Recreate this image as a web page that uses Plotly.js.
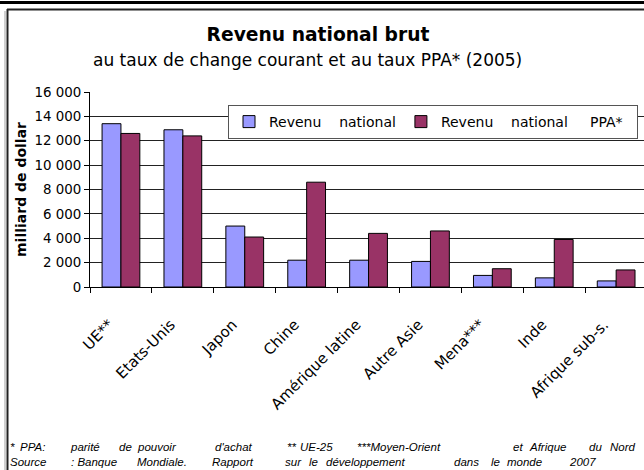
<!DOCTYPE html>
<html>
<head>
<meta charset="utf-8">
<script src="https://cdn.plot.ly/plotly-3.0.1.min.js"></script>
<style>
html,body{margin:0;padding:0;background:#fff;overflow:hidden;}
#chart{width:644px;height:470px;}
</style>
</head>
<body>
<div id="chart"></div>
<script>
// ---- data ----
const categories = ["UE**", "Etats-Unis", "Japon", "Chine", "Amérique latine", "Autre Asie", "Mena***", "Inde", "Afrique sub-s."];
const revenuNational = [13400, 12900, 5000, 2200, 2200, 2100, 950, 750, 500];
const revenuNationalPPA = [12600, 12400, 4100, 8600, 4400, 4600, 1500, 3900, 1400];
const seriesNames = ["Revenu national", "Revenu national PPA*"];
const yTicks = [0, 2000, 4000, 6000, 8000, 10000, 12000, 14000, 16000];
const footLine1 = ["*", "PPA:", "parité", "de", "pouvoir", "d'achat", "**", "UE-25", "***Moyen-Orient", "et", "Afrique", "du", "Nord"];
const footLine2 = ["Source", ": Banque", "Mondiale.", "Rapport", "sur", "le", "développement", "dans", "le", "monde", "2007"];

// ---- layout helpers (pixel -> paper) ----
const W = 644, H = 470, ML = 90, MR = 0, MT = 92, MB = 183;
const PW = W - ML - MR, PH = H - MT - MB;
const px = p => (p - ML) / PW;
const py = p => (H - MB - p) / PH;
const NB = "\u00a0";
// widen word gaps in legend labels like the justified original
const spaced = (s, gaps) => s.split(" ").map((w, i, a) => i < a.length - 1 ? w + NB.repeat(gaps[i]) : w).join("");

const FONT = "DejaVu Sans";

const traces = [
  {
    type: "bar", x: categories, y: revenuNational,
    name: spaced(seriesNames[0], [4]),
    marker: {color: "#9999FF", line: {color: "#000", width: 1}}
  },
  {
    type: "bar", x: categories, y: revenuNationalPPA,
    name: spaced(seriesNames[1], [4, 5]) + NB + NB,
    marker: {color: "#993366", line: {color: "#000", width: 1}}
  }
];

// footnote words with x positions (pixels)
const foot1X = [8, 18, 68, 117, 135, 213, 285, 298, 355, 511, 527, 587, 608];
const foot2X = [8, 69, 135, 210, 283, 307, 324, 452, 489, 505, 567];
const annotations = [
  {
    text: "au taux de change courant et au taux PPA* (2005)",
    xref: "paper", yref: "paper", x: px(307), y: py(60),
    xanchor: "center", yanchor: "middle", showarrow: false,
    font: {family: FONT, size: 17, color: "#000"}
  }
];
footLine1.forEach((w, i) => annotations.push({
  text: "<i>" + w + "</i>", xref: "paper", yref: "paper",
  x: px(foot1X[i]), y: py(447), xanchor: "left", yanchor: "middle",
  showarrow: false, font: {family: "Liberation Sans", size: 11.5, color: "#000"}
}));
footLine2.forEach((w, i) => annotations.push({
  text: "<i>" + w + "</i>", xref: "paper", yref: "paper",
  x: px(foot2X[i]), y: py(462), xanchor: "left", yanchor: "middle",
  showarrow: false, font: {family: "Liberation Sans", size: 11.5, color: "#000"}
}));

const shapes = [
  {type: "line", xref: "paper", yref: "paper", x0: px(0), x1: px(644), y0: py(2.5), y1: py(2.5), line: {color: "#000", width: 3}},
  {type: "line", xref: "paper", yref: "paper", x0: px(7), x1: px(644), y0: py(9.5), y1: py(9.5), line: {color: "#222", width: 2}},
  {type: "line", xref: "paper", yref: "paper", x0: px(7.5), x1: px(7.5), y0: py(9), y1: py(470), line: {color: "#222", width: 2}},
  {type: "line", xref: "paper", yref: "paper", x0: px(5), x1: px(5), y0: py(11), y1: py(470), line: {color: "#d0d0d0", width: 2}}
];

const layout = {
  width: W, height: H,
  margin: {l: ML, r: MR, t: MT, b: MB, pad: 0},
  paper_bgcolor: "#fff", plot_bgcolor: "#fff",
  separators: ", ",
  font: {family: FONT, color: "#000"},
  title: {
    text: "<b>Revenu national brut</b>",
    x: 318 / W, xanchor: "center", xref: "container",
    y: 1 - 34 / H, yanchor: "middle", yref: "container",
    font: {family: FONT, size: 18.7, color: "#000"}
  },
  barmode: "group", bargap: 0.39, bargroupgap: 0,
  showlegend: true,
  legend: {
    orientation: "h", x: px(228), y: py(105), xanchor: "left", yanchor: "top",
    bgcolor: "#fff", bordercolor: "#555", borderwidth: 1,
    font: {family: FONT, size: 14, color: "#000"},
    traceorder: "normal"
  },
  xaxis: {
    type: "category", range: [-0.5, 8.45],
    showline: true, linecolor: "#000", linewidth: 1,
    ticks: "outside", tickson: "boundaries", ticklen: 5, tickcolor: "#000",
    tickangle: -45, ticklabelstandoff: 22, ticklabelshift: -12,
    tickfont: {family: FONT, size: 15, color: "#000"},
    showgrid: false, zeroline: false, fixedrange: true
  },
  yaxis: {
    range: [0, 16000], tickvals: yTicks, separatethousands: true,
    exponentformat: "none",
    showline: true, linecolor: "#000", linewidth: 1,
    ticks: "outside", ticklen: 5, tickcolor: "#000",
    tickfont: {family: FONT, size: 13.4, color: "#000"},
    showgrid: true, gridcolor: "#222", gridwidth: 1,
    zeroline: false, fixedrange: true,
    title: {text: "<b>milliard de dollar</b>", standoff: 4, font: {family: FONT, size: 14, color: "#000"}}
  },
  annotations: annotations,
  shapes: shapes
};

Plotly.newPlot("chart", traces, layout, {displayModeBar: false, staticPlot: true});
</script>
</body>
</html>
